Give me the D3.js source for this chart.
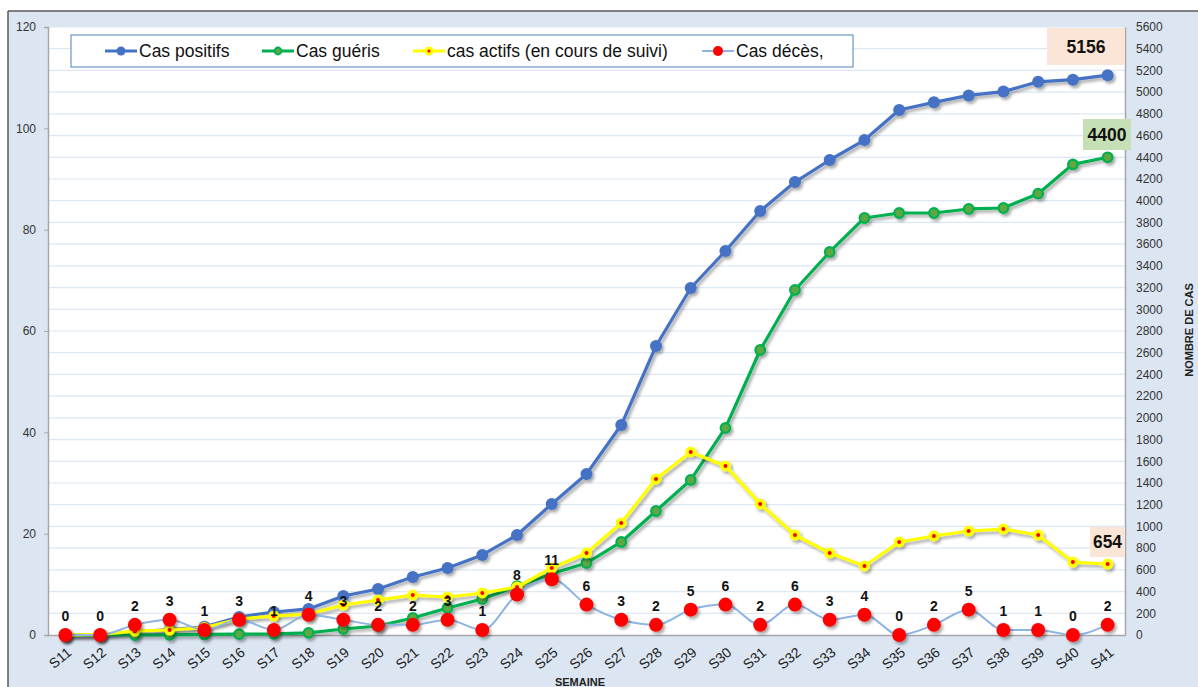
<!DOCTYPE html>
<html><head><meta charset="utf-8">
<script src="https://cdn.jsdelivr.net/npm/d3@7"></script>
<style>
html,body{margin:0;padding:0;background:#fff;}
svg{display:block;font-family:"Liberation Sans",Arial,sans-serif;}
</style></head>
<body>
<svg id="chart" width="1198" height="687"></svg>
<script>
const weeks = ["S11","S12","S13","S14","S15","S16","S17","S18","S19","S20","S21","S22","S23","S24","S25","S26","S27","S28","S29","S30","S31","S32","S33","S34","S35","S36","S37","S38","S39","S40","S41"];
const positifs = [0,3,30,50,75,166,212,240,359,424,534,617,737,921,1207,1483,1934,2662,3196,3537,3905,4172,4375,4559,4836,4906,4970,5005,5095,5115,5156];
const gueris = [0,0,0,2,5,8,10,20,55,83,157,249,332,450,565,663,857,1142,1428,1907,2625,3178,3528,3841,3887,3887,3924,3933,4065,4335,4400];
const actifs = [0,5,35,46,68,147,175,193,276,322,368,350,387,442,617,755,1032,1437,1686,1557,1207,921,755,636,857,912,958,976,921,672,654];
const deces = [0,0,2,3,1,3,1,4,3,2,2,3,1,8,11,6,3,2,5,6,2,6,3,4,0,2,5,1,1,0,2];
const leftTicks = [0,20,40,60,80,100,120];
const rightTicks = d3.range(0,5601,200);
const legendLabels = ["Cas positifs","Cas guéris","cas actifs (en cours de suivi)","Cas décès,"];
const calloutValues = ["5156","4400","654"];

const svg = d3.select("#chart");
const W=1198,H=687;
const L=48,R=1125,T=27,B=635;

const defs = svg.append("defs");
const f = defs.append("filter").attr("id","sh").attr("x","-20%").attr("y","-20%").attr("width","140%").attr("height","140%");
f.append("feDropShadow").attr("dx",2).attr("dy",2.5).attr("stdDeviation",1.6).attr("flood-color","#000").attr("flood-opacity",0.35);

svg.append("rect").attr("x",8).attr("y",11).attr("width",W-8).attr("height",H-11).attr("fill","#DCE6F2");
svg.append("line").attr("x1",8).attr("x2",W).attr("y1",11).attr("y2",11).attr("stroke","#5a5a5a").attr("stroke-width",1.5);
svg.append("line").attr("x1",8).attr("x2",8).attr("y1",11).attr("y2",H).attr("stroke","#5a5a5a").attr("stroke-width",1.5);
svg.append("rect").attr("x",L).attr("y",T).attr("width",R-L).attr("height",B-T).attr("fill","#ffffff");

const x = d3.scaleBand().domain(weeks).range([L,R]);
const cx = d => x(d)+x.bandwidth()/2;
const yL = d3.scaleLinear().domain([0,120]).range([B,T]);
const yR = d3.scaleLinear().domain([0,5600]).range([B,T]);

svg.append("g").selectAll("line").data(rightTicks.filter(d=>d>0)).join("line")
  .attr("x1",L).attr("x2",R).attr("y1",d=>yR(d)).attr("y2",d=>yR(d))
  .attr("stroke","#DDE8F4").attr("stroke-width",1.2);

const gl = svg.append("g").attr("transform",`translate(${L},0)`)
  .call(d3.axisLeft(yL).tickValues(leftTicks).tickSize(4).tickPadding(8));
gl.select(".domain").attr("stroke","#a6a6a6").attr("stroke-width",1.5);
gl.selectAll(".tick line").attr("stroke","#a6a6a6");
gl.selectAll("text").attr("font-size",12).attr("fill","#333").attr("font-family","Liberation Sans, Arial, sans-serif");

const gr = svg.append("g").attr("transform",`translate(${R},0)`)
  .call(d3.axisRight(yR).tickValues(rightTicks).tickFormat(d3.format("d")).tickSize(0).tickPadding(11));
gr.select(".domain").attr("stroke","#a6a6a6").attr("stroke-width",1.5);
gr.selectAll("text").attr("font-size",12).attr("fill","#333").attr("font-family","Liberation Sans, Arial, sans-serif");

const gb = svg.append("g").attr("transform",`translate(0,${B})`)
  .call(d3.axisBottom(x).tickSize(0).tickPadding(0));
gb.select(".domain").attr("stroke","#a6a6a6").attr("stroke-width",1.5);
gb.selectAll("text").attr("font-size",14).attr("fill","#222")
  .attr("font-family","Liberation Sans, Arial, sans-serif")
  .attr("text-anchor","end").attr("dy",0)
  .attr("transform","translate(7,19) rotate(-40)");

svg.append("text").attr("x",580).attr("y",686).attr("text-anchor","middle")
  .attr("font-size",11).attr("font-weight","bold").attr("fill","#222").text("SEMAINE");
svg.append("text").attr("transform","translate(1193,330) rotate(-90)").attr("text-anchor","middle")
  .attr("font-size",11).attr("font-weight","bold").attr("fill","#222").text("NOMBRE DE CAS");

const lineR = d3.line().x((d,i)=>cx(weeks[i])).y(d=>yR(d));
const plot = svg.append("g");

function drawSeries(vals, color, width, markerFn){
  const g = plot.append("g").attr("filter","url(#sh)");
  g.append("path").attr("d",lineR(vals)).attr("fill","none").attr("stroke",color).attr("stroke-width",width).attr("stroke-linejoin","round");
  markerFn(g, vals);
}
drawSeries(positifs,"#4472C4",3.2,(g,v)=>{
  g.selectAll("circle").data(v).join("circle").attr("cx",(d,i)=>cx(weeks[i])).attr("cy",d=>yR(d)).attr("r",6).attr("fill","#4472C4");
});
drawSeries(gueris,"#00B050",3.2,(g,v)=>{
  g.selectAll("circle").data(v).join("circle").attr("cx",(d,i)=>cx(weeks[i])).attr("cy",d=>yR(d)).attr("r",4.8)
   .attr("fill","#5DA843").attr("stroke","#00B050").attr("stroke-width",2.2);
});
drawSeries(actifs,"#FFFF00",3.2,(g,v)=>{
  g.selectAll("circle.o").data(v).join("circle").attr("class","o").attr("cx",(d,i)=>cx(weeks[i])).attr("cy",d=>yR(d)).attr("r",5.5).attr("fill","#FFFF00");
  g.selectAll("circle.i").data(v).join("circle").attr("class","i").attr("cx",(d,i)=>cx(weeks[i])).attr("cy",d=>yR(d)).attr("r",2).attr("fill","#FF0000");
});
const lineL = d3.line().x((d,i)=>cx(weeks[i])).y(d=>yL(d)).curve(d3.curveMonotoneX);
const gd = plot.append("g");
gd.append("path").attr("d",lineL(deces)).attr("fill","none").attr("stroke","#8EB4E3").attr("stroke-width",2);
gd.append("g").attr("filter","url(#sh)").selectAll("circle").data(deces).join("circle")
  .attr("cx",(d,i)=>cx(weeks[i])).attr("cy",d=>yL(d)).attr("r",7).attr("fill","#FF0000");
gd.selectAll("text").data(deces).join("text")
  .attr("x",(d,i)=>cx(weeks[i])).attr("y",d=>yL(d)-14).attr("text-anchor","middle")
  .attr("font-size",14).attr("font-weight","bold").attr("fill","#111")
  .text(d=>d);

const calloutBoxes = [
  {text:calloutValues[0], x:1047, y:28, w:78, h:37, fill:"#FBE5D6", fs:19, tl:39},
  {text:calloutValues[1], x:1083, y:119, w:48, h:31, fill:"#C5E0B4", fs:19, tl:39},
  {text:calloutValues[2], x:1090, y:527, w:35, h:30, fill:"#FBE5D6", fs:18, tl:29}
];
const gc = svg.append("g");
calloutBoxes.forEach(c=>{
  gc.append("rect").attr("x",c.x).attr("y",c.y).attr("width",c.w).attr("height",c.h).attr("fill",c.fill);
  gc.append("text").attr("x",c.x+c.w/2).attr("y",c.y+c.h/2+c.fs*0.36).attr("text-anchor","middle")
    .attr("font-size",c.fs).attr("font-weight","bold").attr("fill","#111")
    .attr("textLength", c.tl).attr("lengthAdjust","spacingAndGlyphs")
    .text(c.text);
});

const lg = svg.append("g");
lg.append("rect").attr("x",71).attr("y",35).attr("width",782).attr("height",32).attr("fill","#fff").attr("stroke","#4F81BD").attr("stroke-width",1);
const items = [
  {x:105, label:legendLabels[0], line:"#4472C4", type:"pos"},
  {x:262, label:legendLabels[1], line:"#00B050", type:"gue"},
  {x:413, label:legendLabels[2], line:"#FFFF00", type:"act"},
  {x:702, label:legendLabels[3], line:"#8EB4E3", type:"dec"}
];
const ly=51;
items.forEach(it=>{
  lg.append("line").attr("x1",it.x).attr("x2",it.x+32).attr("y1",ly).attr("y2",ly).attr("stroke",it.line).attr("stroke-width",it.type==="dec"?2:3);
  const mx=it.x+16;
  if(it.type==="pos") lg.append("circle").attr("cx",mx).attr("cy",ly).attr("r",4.5).attr("fill","#4472C4");
  if(it.type==="gue") lg.append("circle").attr("cx",mx).attr("cy",ly).attr("r",3.5).attr("fill","#5DA843").attr("stroke","#00B050").attr("stroke-width",1.8);
  if(it.type==="act"){lg.append("circle").attr("cx",mx).attr("cy",ly).attr("r",4.5).attr("fill","#FFFF00");lg.append("circle").attr("cx",mx).attr("cy",ly).attr("r",1.6).attr("fill","#FF0000");}
  if(it.type==="dec") lg.append("circle").attr("cx",mx).attr("cy",ly).attr("r",5).attr("fill","#FF0000");
  lg.append("text").attr("x",it.x+34).attr("y",ly+6).attr("font-size",17.5).attr("fill","#111").text(it.label);
});
</script>
</body></html>
